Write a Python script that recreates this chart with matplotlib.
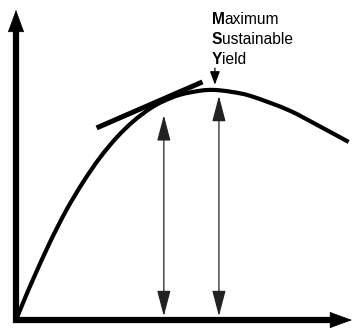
import matplotlib
matplotlib.use("Agg")
import matplotlib.pyplot as plt
import numpy as np
from matplotlib.path import Path
from matplotlib.patches import PathPatch
from matplotlib.offsetbox import TextArea, HPacker, VPacker, AnnotationBbox

plt.rcParams['font.family'] = ['Liberation Sans', 'DejaVu Sans']

# yield curve: stock size (x) vs. sustainable yield (y, peak = 100)
stock = [0, 2.7, 5, 10, 15, 20, 25, 30, 35, 40, 44, 49, 55, 59, 64, 70, 81, 90, 99]
yield_ = [0, 9.6, 17.4, 33.5, 47.8, 60, 70.6, 79.4, 86.5, 92.0, 95.2, 98.0, 99.7,
          100, 99.2, 97.3, 91.3, 84.5, 77.4]

# tangent touching the curve on the rising side
tangent_x = [24, 55.5]
tangent_y = [83.5, 103.5]

# vertical double arrows (x, top)
arrows_x = [44, 60.4]
arrows_top = [89, 97.4]
arrow_bottom = 1.7

msy_x = 59.2
msy_label = [("M", "aximum"), ("S", "ustainable"), ("Y", "ield")]


def smooth_path(xs, ys):
    # catmull-rom through the points, written as cubic bezier segments
    p = np.column_stack([xs, ys]).astype(float)
    p = np.vstack([p[0], p, p[-1]])
    verts = [p[1]]
    codes = [Path.MOVETO]
    for i in range(1, len(p) - 2):
        c1 = p[i] + (p[i + 1] - p[i - 1]) / 6
        c2 = p[i + 1] - (p[i + 2] - p[i]) / 6
        verts += [c1, c2, p[i + 1]]
        codes += [Path.CURVE4] * 3
    return Path(verts, codes)


fig = plt.figure(figsize=(3.52, 3.29), dpi=100)
ax = fig.add_axes([0, 0, 1, 1])
ax.set_xlim(-4.76, 100)
ax.set_ylim(-3.9, 139.1)
ax.axis('off')

# axes with arrow heads
x_end, y_end = 100, 134.8
ax.plot([-1.0, x_end - 4], [0, 0], color='k', lw=4.5, solid_capstyle='butt')
ax.plot([0, 0], [-1.5, y_end - 7], color='k', lw=4.5, solid_capstyle='butt')
head = dict(arrowstyle='-|>,head_length=1.5,head_width=0.55', mutation_scale=10,
            lw=0.5, color='k', shrinkA=0, shrinkB=0)
ax.annotate('', xy=(x_end, 0), xytext=(x_end - 6, 0), arrowprops=head)
ax.annotate('', xy=(0, y_end), xytext=(0, y_end - 9), arrowprops=head)

# curve and tangent
ax.add_patch(PathPatch(smooth_path(stock, yield_), facecolor='none',
                       edgecolor='k', lw=3, capstyle='butt'))
ax.plot(tangent_x, tangent_y, color='k', lw=3.6, solid_capstyle='butt')

# double arrows down to the stock axis
dbl = dict(arrowstyle='<|-|>,head_length=1.6,head_width=0.42', mutation_scale=10,
           lw=0.9, color='#222222', shrinkA=0, shrinkB=0)
for x, top in zip(arrows_x, arrows_top):
    ax.annotate('', xy=(x, top), xytext=(x, arrow_bottom), arrowprops=dbl)

# small pointer from the label to the peak
ax.annotate('', xy=(msy_x, 102.3), xytext=(msy_x, 109.5),
            arrowprops=dict(arrowstyle='-|>,head_length=0.8,head_width=0.3',
                            mutation_scale=10, lw=0.9, color='k',
                            shrinkA=0, shrinkB=0))

# label with bold initials
rows = []
for first, rest in msy_label:
    a = TextArea(first, textprops=dict(fontsize=11.2, fontweight='bold', color='k'))
    b = TextArea(rest, textprops=dict(fontsize=11.2, color='k'))
    rows.append(HPacker(children=[a, b], align='baseline', pad=0, sep=0))
box = VPacker(children=rows, align='left', pad=0, sep=3.5)
ab = AnnotationBbox(box, (58.3, 133.8), box_alignment=(0, 1), frameon=False,
                    pad=0, xycoords='data')
ax.add_artist(ab)

fig.savefig('out.png', dpi=100, facecolor='white')
